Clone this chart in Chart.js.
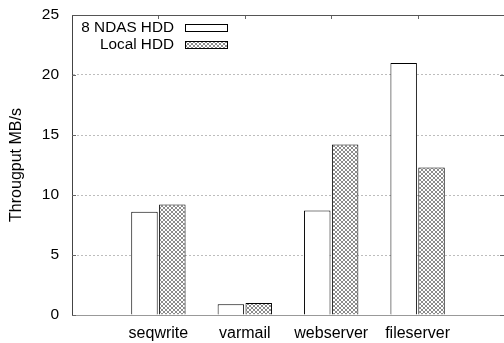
<!DOCTYPE html>
<html>
<head>
<meta charset="utf-8">
<script src="https://cdn.jsdelivr.net/npm/chart.js@4/dist/chart.umd.min.js"></script>
<style>
html,body{margin:0;padding:0;background:#fff;}
#wrap{width:504px;height:343px;position:relative;}
</style>
</head>
<body>
<div id="wrap"><canvas id="c" width="504" height="343"></canvas></div>
<script>
const categories = ['seqwrite', 'varmail', 'webserver', 'fileserver'];
const seriesNames = ['8 NDAS HDD', 'Local HDD'];
const ndasValues = [8.6, 0.9, 8.7, 21.0];
const localValues = [9.2, 1.0, 14.2, 12.3];
const yTicks = [0, 5, 10, 15, 20, 25];
const yTitle = 'Througput MB/s';

// axis runs from one empty slot before to one empty slot after the categories
const labels = [''].concat(categories, ['']);
const pad = arr => [null].concat(arr, [null]);

function makePattern() {
  const c = document.createElement('canvas');
  c.width = 4; c.height = 4;
  const x = c.getContext('2d');
  x.fillStyle = '#ffffff';
  x.fillRect(0, 0, 4, 4);
  x.fillStyle = '#8c8c8c';
  [[0,0],[1,1],[2,2],[3,3],[3,0],[2,1],[1,2],[0,3]].forEach(p => x.fillRect(p[0], p[1], 1, 1));
  return document.getElementById('c').getContext('2d').createPattern(c, 'repeat');
}
const hatch = makePattern();
const fills = ['#ffffff', hatch];
const FONT = "'Liberation Sans', Arial, Helvetica, sans-serif";

const framePlugin = {
  id: 'frame',
  afterDraw(chart) {
    const {ctx, chartArea: a, scales} = chart;
    ctx.save();
    ctx.strokeStyle = '#666';
    ctx.lineWidth = 1;
    yTicks.forEach(v => {
      const y = Math.round(scales.y.getPixelForValue(v)) + 0.5;
      ctx.beginPath();
      ctx.moveTo(a.left, y); ctx.lineTo(a.left + 4, y);
      ctx.moveTo(a.right, y); ctx.lineTo(a.right - 4, y);
      ctx.stroke();
    });
    categories.forEach((c, i) => {
      const x = Math.round(scales.x.getPixelForValue(i + 1)) + 0.5;
      ctx.beginPath();
      ctx.moveTo(x, a.top); ctx.lineTo(x, a.top + 4);
      ctx.stroke();
    });
    ctx.strokeStyle = '#555';
    ctx.beginPath();
    ctx.moveTo(a.left, Math.round(a.top) + 0.5);
    ctx.lineTo(a.right, Math.round(a.top) + 0.5);
    ctx.stroke();
    ctx.font = '15.3px ' + FONT;
    ctx.fillStyle = '#000';
    ctx.textAlign = 'right';
    ctx.textBaseline = 'middle';
    const rows = [27.5, 44.5];
    seriesNames.forEach((n, i) => {
      ctx.fillText(n, 174, rows[i]);
      ctx.fillStyle = fills[i];
      ctx.fillRect(185, rows[i] - 3.5, 43, 7);
      ctx.strokeStyle = '#000';
      ctx.strokeRect(185.5, Math.round(rows[i] - 3.5) + 0.5, 42, 7);
      ctx.fillStyle = '#000';
    });
    ctx.restore();
  }
};

new Chart(document.getElementById('c'), {
  type: 'bar',
  data: {
    labels: labels,
    datasets: [
      { label: seriesNames[0], data: pad(ndasValues), backgroundColor: fills[0], borderColor: '#000', borderWidth: 1 },
      { label: seriesNames[1], data: pad(localValues), backgroundColor: fills[1], borderColor: '#000', borderWidth: 1 }
    ]
  },
  options: {
    responsive: false,
    animation: false,
    events: [],
    categoryPercentage: 0.645,
    barPercentage: 0.95,
    layout: { padding: { left: 0, right: 0, top: 15, bottom: 0 } },
    plugins: { legend: { display: false }, tooltip: { enabled: false } },
    scales: {
      x: {
        offset: false,
        grid: { display: false, drawTicks: false },
        border: { display: true, color: '#999', width: 1 },
        ticks: { color: '#000', font: { family: FONT, size: 16 }, padding: 9, maxRotation: 0, autoSkip: false },
        afterFit(s) { s.height = 28; s.paddingLeft = 0; s.paddingRight = 0; }
      },
      y: {
        min: 0, max: 25,
        afterBuildTicks(s) { s.ticks = yTicks.map(v => ({ value: v })); },
        grid: { color: '#bdbdbd', drawTicks: false, lineWidth: 1 },
        border: { display: true, color: '#444', width: 1, dash: [2, 2] },
        ticks: { color: '#000', font: { family: FONT, size: 15.5 }, padding: 13 },
        title: { display: true, text: yTitle, color: '#000', font: { family: FONT, size: 16 }, padding: { top: 7, bottom: 0 } },
        afterFit(s) { s.width = 72; s.paddingTop = 0; s.paddingBottom = 0; }
      }
    }
  },
  plugins: [framePlugin]
});
</script>
</body>
</html>
